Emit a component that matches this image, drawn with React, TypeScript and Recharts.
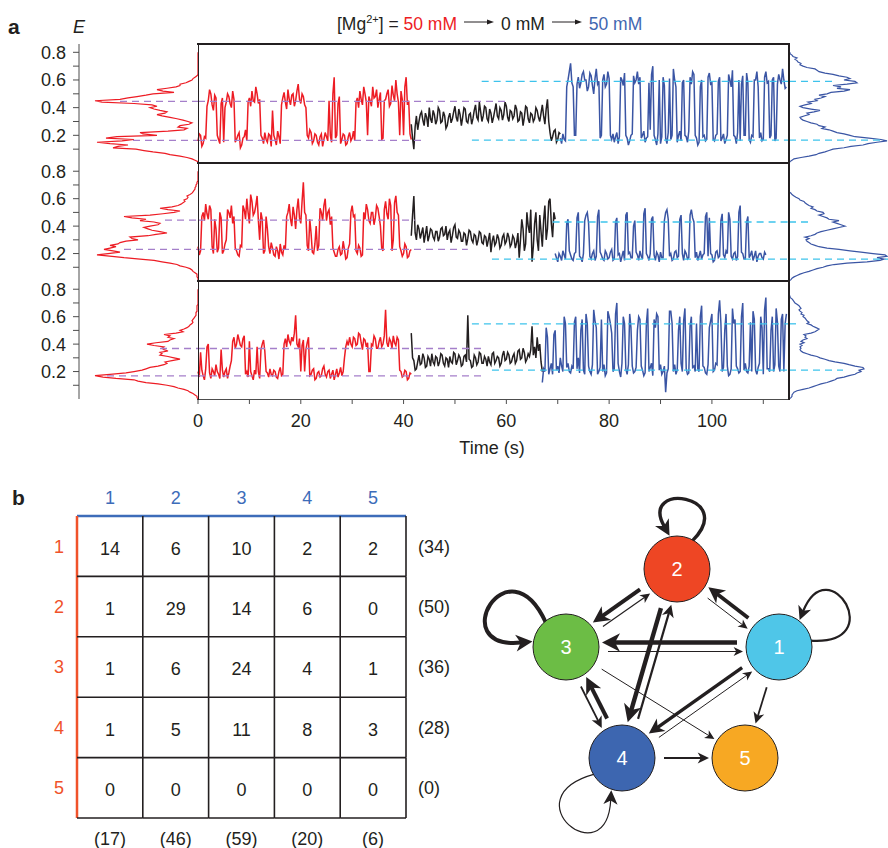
import React from "react";
import { Line, LineChart, ReferenceLine, Scatter, ScatterChart, XAxis, YAxis } from "recharts";

const FONT = '"Liberation Sans", Arial, Helvetica, sans-serif';
const INK = "#231f20";
const RED = "#ed1c24";
const BLUE = "#3a55a4";
const TITLE_BLUE = "#3f67b1";
const PURPLE = "#a57fca";
const CYAN = "#3ec3ec";
const TAB_BLUE = "#3d6cb9";
const TAB_RED = "#f0522a";

const DT = 0.25; // seconds between trace samples
const T_MAX = 115;
const E_MAX = 0.86;

// ---- trace 1 (E values) ----
const red1 = [
  .16,.21,.2,.12,.14,.19,.18,.41,.45,.53,.5,.42,.38,.49,.47,.2,.17,.14,.43,.47,
  .15,.4,.44,.5,.48,.43,.4,.52,.46,.15,.17,.2,.22,.11,.13,.18,.19,.24,.16,.44,
  .47,.41,.52,.45,.44,.55,.5,.43,.46,.2,.18,.14,.22,.17,.15,.21,.2,.12,.38,.2,
  .17,.13,.23,.19,.14,.42,.47,.51,.44,.39,.53,.46,.42,.49,.5,.41,.45,.52,.57,.46,
  .43,.5,.48,.42,.4,.2,.18,.24,.22,.14,.16,.21,.2,.15,.13,.19,.21,.12,.17,.22,
  .19,.16,.45,.2,.15,.5,.62,.18,.2,.43,.48,.14,.17,.21,.2,.13,.14,.19,.22,.16,
  .18,.23,.16,.44,.47,.4,.52,.46,.42,.55,.5,.44,.2,.48,.45,.41,.55,.47,.48,.53,
  .4,.46,.51,.17,.18,.45,.46,.5,.53,.41,.43,.56,.49,.45,.6,.5,.44,.2,.52,.46,
  .2,.55,.62,.42,.45,.21,.17,
];
const black1 = [
  .28,.18,.1,.26,.34,.24,.3,.35,.37,.31,.27,.36,.33,.26,.4,.32,.29,.38,.35,.28,
  .31,.4,.38,.29,.3,.37,.34,.25,.27,.33,.36,.29,.32,.37,.41,.33,.3,.39,.35,.27,
  .33,.4,.39,.3,.29,.35,.36,.28,.32,.38,.42,.33,.31,.44,.37,.3,.34,.41,.4,.32,
  .3,.39,.36,.29,.33,.38,.43,.34,.32,.4,.38,.31,.35,.44,.41,.33,.3,.38,.37,.32,
  .34,.42,.39,.3,.31,.37,.36,.27,.33,.41,.4,.32,.29,.36,.35,.3,.32,.4,.38,.33,
  .3,.36,.42,.34,.28,.39,.46,.3,.22,.16,.19,.23,.24,.15,.17,.22,.21,
];
const blue1 = [
  .18,.14,.21,.17,.16,.55,.6,.66,.72,.58,.55,.2,.2,.57,.62,.54,.58,.64,.66,.6,
  .6,.52,.55,.65,.63,.56,.5,.61,.68,.57,.59,.18,.2,.6,.64,.55,.57,.66,.61,.2,
  .17,.21,.15,.19,.22,.14,.19,.62,.6,.56,.65,.2,.18,.13,.16,.2,.21,.63,.58,.6,
  .66,.57,.62,.18,.2,.23,.15,.18,.19,.58,.24,.64,.7,.2,.17,.13,.21,.6,.14,.19,
  .62,.56,.18,.14,.22,.61,.17,.2,.68,.6,.55,.15,.2,.23,.16,.58,.6,.2,.19,.15,
  .23,.62,.57,.66,.64,.2,.18,.13,.15,.55,.6,.19,.2,.16,.17,.62,.65,.57,.58,.17,
  .16,.2,.21,.59,.62,.16,.18,.21,.14,.17,.2,.64,.6,.55,.67,.2,.19,.14,.22,.6,
  .16,.57,.63,.2,.2,.65,.58,.17,.15,.2,.19,.6,.6,.66,.55,.18,.22,.16,.17,.62,
  .66,.58,.59,.18,.2,.6,.62,.16,.18,.57,.64,.6,.57,.68,.6,.54,.55,
];
const starts1 = [0, 41.5, 70.5];

// ---- trace 2 ----
const red2 = [
  .25,.19,.22,.47,.5,.44,.56,.49,.45,.55,.52,.25,.2,.45,.38,.21,.24,.5,.46,.2,
  .22,.27,.3,.52,.5,.46,.55,.42,.47,.24,.22,.19,.18,.26,.25,.55,.52,.45,.6,.5,
  .42,.63,.58,.48,.5,.55,.62,.44,.3,.5,.45,.2,.22,.47,.38,.25,.2,.28,.24,.19,
  .18,.25,.22,.16,.27,.21,.19,.26,.23,.47,.5,.56,.45,.4,.54,.48,.38,.52,.6,.46,
  .42,.58,.72,.5,.48,.26,.22,.45,.35,.21,.2,.27,.4,.22,.26,.53,.5,.44,.55,.6,
  .44,.5,.52,.41,.47,.24,.21,.18,.18,.23,.25,.19,.2,.29,.23,.16,.17,.24,.27,.5,
  .55,.47,.48,.22,.2,.26,.24,.18,.19,.5,.45,.56,.52,.44,.42,.5,.5,.41,.46,.55,
  .53,.47,.4,.24,.22,.52,.58,.49,.45,.6,.55,.22,.3,.57,.62,.5,.48,.25,.22,.18,
  .2,.27,.25,.17,.18,.22,.23,
];
const black2 = [
  .33,.48,.62,.35,.3,.41,.38,.31,.35,.39,.28,.34,.4,.29,.33,.38,.37,.32,.3,.36,
  .36,.29,.32,.38,.39,.33,.34,.4,.3,.35,.37,.28,.33,.39,.41,.32,.31,.37,.35,.29,
  .29,.35,.34,.26,.31,.37,.36,.3,.28,.34,.33,.26,.3,.36,.35,.28,.27,.33,.32,.25,
  .3,.35,.21,.29,.33,.26,.28,.34,.31,.24,.26,.32,.34,.27,.29,.35,.32,.25,.27,.33,
  .31,.24,.28,.35,.17,.3,.45,.38,.22,.27,.5,.4,.35,.52,.14,.25,.42,.5,.3,.22,
  .48,.36,.25,.44,.55,.3,.38,.58,.6,.42,.32,.5,.45,
];
const blue2 = [
  .2,.17,.14,.2,.18,.15,.22,.19,.16,.42,.45,.22,.19,.16,.15,.2,.21,.46,.5,.18,
  .17,.14,.2,.44,.48,.5,.42,.18,.16,.2,.22,.15,.18,.47,.52,.21,.19,.16,.15,.22,
  .2,.16,.17,.21,.23,.15,.16,.43,.46,.19,.2,.14,.18,.22,.15,.48,.5,.2,.21,.17,
  .17,.4,.44,.21,.19,.15,.22,.18,.16,.49,.53,.2,.18,.15,.2,.45,.47,.19,.15,.21,
  .19,.14,.21,.17,.17,.44,.5,.52,.45,.18,.2,.15,.16,.21,.22,.17,.18,.45,.48,.2,
  .15,.22,.2,.16,.17,.48,.52,.46,.43,.17,.21,.15,.18,.22,.16,.19,.2,.47,.5,.18,
  .46,.2,.19,.14,.15,.21,.22,.17,.18,.44,.49,.19,.17,.22,.2,.5,.45,.18,.16,.2,
  .21,.15,.18,.5,.55,.21,.2,.16,.16,.43,.47,.17,.19,.22,.15,.18,.22,.14,.18,.2,
  .2,.17,.16,.21,.19,
];
const starts2 = [0, 41.5, 69.5];

// ---- trace 3 ----
const red3 = [
  .2,.16,.34,.21,.17,.14,.22,.38,.4,.19,.15,.22,.2,.17,.25,.2,.18,.15,.36,.21,
  .16,.2,.22,.15,.19,.24,.28,.42,.45,.37,.4,.47,.43,.39,.38,.44,.46,.18,.2,.16,
  .42,.2,.17,.14,.21,.18,.38,.2,.15,.36,.4,.43,.35,.2,.19,.16,.22,.18,.17,.21,
  .2,.16,.15,.2,.23,.17,.18,.4,.44,.38,.47,.42,.4,.45,.42,.48,.61,.4,.38,.44,
  .2,.39,.43,.2,.36,.41,.45,.17,.18,.21,.22,.14,.15,.19,.2,.16,.17,.22,.24,.18,
  .16,.2,.21,.15,.18,.21,.14,.18,.22,.16,.19,.23,.17,.2,.3,.38,.42,.39,.45,.4,
  .38,.45,.44,.39,.4,.48,.47,.41,.36,.44,.43,.38,.41,.2,.2,.4,.39,.46,.44,.37,
  .37,.42,.45,.38,.4,.46,.65,.41,.38,.44,.42,.37,.46,.41,.39,.45,.43,.21,.2,.16,
  .17,.21,.2,.14,.15,.19,.18,
];
const black3 = [
  .48,.3,.28,.21,.22,.27,.32,.25,.26,.33,.3,.23,.24,.31,.29,.24,.33,.27,.25,.31,
  .3,.24,.27,.33,.32,.26,.24,.3,.29,.23,.31,.27,.26,.34,.33,.25,.28,.32,.3,.24,
  .25,.31,.32,.27,.61,.29,.28,.23,.24,.32,.3,.25,.27,.34,.33,.26,.26,.31,.29,.24,
  .31,.27,.25,.33,.34,.26,.28,.31,.3,.24,.26,.32,.35,.28,.29,.34,.32,.26,.27,.31,
  .33,.26,.28,.35,.36,.29,.3,.37,.34,.27,.29,.33,.31,.36,.53,.32,.38,.3,.45,.35,
  .4,.27,.2,
];
const blue3 = [
  .12,.22,.2,.52,.45,.18,.22,.26,.18,.47,.5,.21,.24,.19,.3,.24,.2,.6,.55,.23,
  .26,.2,.19,.24,.22,.56,.6,.22,.3,.19,.5,.58,.21,.18,.62,.55,.24,.2,.18,.25,
  .65,.57,.52,.18,.2,.23,.58,.2,.25,.17,.19,.64,.6,.55,.48,.2,.22,.62,.7,.26,
  .2,.16,.26,.6,.55,.22,.18,.25,.62,.52,.24,.19,.2,.23,.5,.6,.58,.24,.21,.17,
  .19,.55,.66,.2,.23,.26,.17,.58,.52,.62,.6,.21,.25,.18,.2,.24,.05,.19,.22,.64,
  .64,.55,.2,.25,.18,.21,.5,.6,.26,.2,.57,.66,.22,.18,.19,.53,.6,.23,.24,.2,
  .55,.22,.2,.6,.68,.24,.23,.19,.18,.25,.52,.57,.62,.2,.21,.26,.25,.62,.72,.55,
  .2,.23,.5,.62,.24,.17,.18,.22,.66,.55,.58,.24,.22,.19,.2,.6,.7,.21,.26,.2,
  .19,.24,.56,.2,.64,.58,.21,.18,.23,.26,.6,.52,.18,.65,.74,.22,.22,.2,.5,.6,
  .2,.25,.66,.56,.24,.2,.58,.62,.2,.55,.62,
];
const starts3 = [0, 41.5, 67];

// ---- E histograms (counts per bin) ----
const eBins = [
  0,.01,.02,.03,.04,.05,.06,.07,.08,.09,
  .1,.11,.12,.13,.14,.15,.16,.17,.18,.19,
  .2,.21,.22,.23,.24,.25,.26,.27,.28,.29,
  .3,.31,.32,.33,.34,.35,.36,.37,.38,.39,
  .4,.41,.42,.43,.44,.45,.46,.47,.48,.49,
  .5,.51,.52,.53,.54,.55,.56,.57,.58,.59,
  .6,.61,.62,.63,.64,.65,.66,.67,.68,.69,
  .7,.71,.72,.73,.74,.75,.76,.77,.78,.79,
  .8,
];
const histL1 = [
  0,0,3,6,11,18,28,33,45,54,
  62,85,80,70,88,101,76,64,92,81,
  41,55,58,30,14,11,20,18,9,6,
  10,15,21,28,36,41,33,31,38,44,
  48,41,46,64,96,103,78,70,61,52,
  45,24,35,41,31,22,18,18,12,9,
  6,5,3,1,0,0,0,0,0,0,
  0,0,0,0,0,0,0,0,0,0,
  0,
];
const histR1 = [
  0,1,3,5,12,20,27,30,36,40,
  44,55,62,74,79,88,98,92,80,66,
  61,55,48,44,40,33,36,30,28,22,
  18,14,12,11,15,20,18,25,31,22,
  14,11,16,22,19,28,26,32,36,30,
  38,42,55,61,48,52,44,58,68,66,
  55,61,58,50,44,36,30,28,26,18,
  14,11,12,9,8,6,8,4,3,1,
  1,
];
const histL2 = [
  0,0,0,1,1,1,3,5,6,8,
  12,18,21,28,36,44,58,74,86,101,
  90,78,85,94,88,82,88,80,78,72,
  60,66,68,50,42,31,38,46,50,54,
  48,40,38,44,58,52,66,74,48,35,
  24,18,30,38,26,20,17,15,13,14,
  11,10,11,8,6,5,4,3,3,2,
  2,1,1,0,0,0,0,0,0,0,
  0,
];
const histR2 = [
  0,2,3,5,8,11,15,20,24,28,
  34,38,45,58,78,91,95,88,98,96,
  84,72,61,50,38,30,26,22,20,18,
  17,20,16,22,26,28,32,38,44,50,
  56,52,48,44,50,40,38,34,30,35,
  34,28,26,22,24,20,18,16,15,11,
  10,7,5,3,2,0,0,0,0,0,
  0,0,0,0,0,0,0,0,0,0,
  0,
];
const histL3 = [
  0,1,1,3,5,8,10,14,20,24,
  31,40,52,60,64,82,95,103,88,72,
  64,56,52,48,40,34,31,33,26,18,
  24,30,38,36,38,30,34,36,34,44,
  51,42,30,28,24,30,28,34,22,15,
  18,14,11,9,8,6,5,6,5,4,
  3,2,2,2,1,1,1,1,1,0,
  0,0,0,0,0,0,0,0,0,0,
  0,
];
const histR3 = [
  0,2,3,3,4,5,8,14,20,24,
  28,32,38,42,46,48,55,60,66,68,
  72,70,75,74,66,60,55,46,40,36,
  31,28,22,18,14,12,11,12,11,13,
  11,15,12,14,18,16,17,15,22,26,
  28,30,27,24,22,18,20,18,17,16,
  14,15,12,13,11,10,12,11,10,8,
  6,5,4,3,1,1,0,0,0,0,
  0,
];

// ---- state levels: [E, reach into histogram, t from, t to] ----
const before1 = [[0.445, 78, 0, 60.7], [0.163, 65, 0, 43.8]];
const after1 = [[0.59, 44, 55.2, 115], [0.165, 91, 53.3, 115]];
const before2 = [[0.443, 33, 0, 42.2], [0.23, 74, 0, 52.5]];
const after2 = [[0.43, 24, 69, 115], [0.16, 99, 57.2, 115]];
const before3 = [[0.368, 38, 0, 55.9], [0.168, 91, 0, 56]];
const after3 = [[0.548, 11, 53.3, 115], [0.21, 54, 57.2, 115]];

// ---- panel b: transition counts (row = from, column = to) ----
const stateIds = [1, 2, 3, 4, 5];
const transitions = [
  [14, 6, 10, 2, 2],
  [1, 29, 14, 6, 0],
  [1, 6, 24, 4, 1],
  [1, 5, 11, 8, 3],
  [0, 0, 0, 0, 0],
];
const nodeX = [309, 207, 96, 152, 275];
const nodeY = [157, 79, 157, 268, 268];
const nodeColors = ["#4fc6e8", "#ee4624", "#6cbd45", "#3d66b0", "#f7a823"];

const rowSums = transitions.map((r) => r.reduce((a, b) => a + b, 0));
const colSums = stateIds.map((_, j) => transitions.reduce((a, r) => a + r[j], 0));

const arrowWidth: Record<string, number> = {
  "1-3": 4.6, "3-1": 1, "2-3": 4, "3-2": 1.2, "1-2": 3.8, "2-1": 1,
  "2-4": 4.4, "4-2": 2.2, "1-4": 3.4, "4-1": 1, "3-4": 1.8, "4-3": 4,
  "3-5": 1, "4-5": 1.8, "1-5": 1.8,
};
const loopStyle: Record<number, { angle: number; dist: number; width: number; head: number }> = {
  1: { angle: -32, dist: 111, width: 2.2, head: 2.8 },
  2: { angle: -82, dist: 96, width: 3.4, head: 3.6 },
  3: { angle: -150, dist: 122, width: 4, head: 4 },
  4: { angle: 129, dist: 120, width: 1.2, head: 3 },
};

type Level = number[];
interface PanelDef {
  top: number; h: number;
  red: number[]; black: number[]; blue: number[]; starts: number[];
  histL: number[]; histR: number[]; before: Level[]; after: Level[];
}

const panels: PanelDef[] = [
  { top: 44, h: 119, red: red1, black: black1, blue: blue1, starts: starts1, histL: histL1, histR: histR1, before: before1, after: after1 },
  { top: 163, h: 118, red: red2, black: black2, blue: blue2, starts: starts2, histL: histL2, histR: histR2, before: before2, after: after2 },
  { top: 281, h: 118, red: red3, black: black3, blue: blue3, starts: starts3, histL: histL3, histR: histR3, before: before3, after: after3 },
];

const NO_MARGIN = { top: 0, right: 0, bottom: 0, left: 0 };
const toSeries = (vals: number[], t0: number) => vals.map((e, i) => ({ t: t0 + i * DT, e }));
const toHist = (counts: number[]) => counts.map((c, i) => ({ e: eBins[i], c }));
const dash = { strokeDasharray: "7 5", strokeWidth: 1.3 };
const eTicks = [0.1, 0.2, 0.3, 0.4, 0.5, 0.6, 0.7, 0.8];
const tTicks = [0, 10, 20, 30, 40, 50, 60, 70, 80, 90, 100, 110];
const fmtE = (v: number) => (Math.round(v * 10) % 2 === 0 ? v.toFixed(1) : "");
const tickFont = { fontSize: 18, fill: INK, fontFamily: FONT };

function TracePanel({ p, last }: { p: PanelDef; last: boolean }) {
  const lines: [number[], number, string][] = [
    [p.red, p.starts[0], RED],
    [p.black, p.starts[1], INK],
    [p.blue, p.starts[2], BLUE],
  ];
  return (
    <LineChart width={591} height={p.h + (last ? 50 : 0)} margin={NO_MARGIN}>
      <XAxis
        type="number" dataKey="t" domain={[0, T_MAX]} hide={!last} ticks={tTicks} interval={0}
        tickFormatter={(v: number) => (v % 20 === 0 ? String(v) : "")}
        height={50} tickSize={5} tickMargin={10} axisLine={false} stroke="#4d4d4d" tick={tickFont}
      />
      <YAxis yAxisId="e" type="number" domain={[0, E_MAX]} hide />
      <YAxis yAxisId="major" type="number" domain={[0, E_MAX]} ticks={[0.2, 0.4, 0.6, 0.8]} interval={0}
        mirror width={0} axisLine={false} tick={false} tickSize={10} stroke={INK} />
      <YAxis yAxisId="minor" type="number" domain={[0, E_MAX]} ticks={[0.1, 0.3, 0.5, 0.7]} interval={0}
        mirror width={0} axisLine={false} tick={false} tickSize={6} stroke={INK} />
      {lines.map(([vals, t0, color], i) => (
        <Line key={i} yAxisId="e" type="linear" data={toSeries(vals, t0)} dataKey="e" stroke={color}
          strokeWidth={1.5} dot={false} activeDot={false} isAnimationActive={false} />
      ))}
      {p.before.map(([e, , t0, t1], i) => (
        <ReferenceLine key={"b" + i} yAxisId="e" segment={[{ x: t0, y: e }, { x: t1, y: e }]} stroke={PURPLE} {...dash} />
      ))}
      {p.after.map(([e, , t0, t1], i) => (
        <ReferenceLine key={"a" + i} yAxisId="e" segment={[{ x: t0, y: e }, { x: t1, y: e }]} stroke={CYAN} {...dash} />
      ))}
    </LineChart>
  );
}

function LeftHist({ p }: { p: PanelDef }) {
  return (
    <LineChart layout="vertical" width={168} height={p.h} margin={NO_MARGIN}>
      <XAxis type="number" dataKey="c" domain={[0, 119]} reversed hide />
      <YAxis type="number" dataKey="e" domain={[0, E_MAX]} reversed ticks={eTicks} interval={0} tickFormatter={fmtE}
        width={49} tickSize={6} tickMargin={7} stroke="#4d4d4d" tick={tickFont} />
      <Line data={toHist(p.histL)} dataKey="c" stroke={RED} strokeWidth={1.2} dot={false} activeDot={false} isAnimationActive={false} />
      {p.before.map(([e, reach], i) => (
        <ReferenceLine key={i} segment={[{ x: reach, y: e }, { x: 0, y: e }]} stroke={PURPLE} {...dash} />
      ))}
    </LineChart>
  );
}

function RightHist({ p }: { p: PanelDef }) {
  return (
    <LineChart layout="vertical" width={99} height={p.h} margin={NO_MARGIN}>
      <XAxis type="number" dataKey="c" domain={[0, 99]} hide />
      <YAxis type="number" dataKey="e" domain={[0, E_MAX]} reversed hide />
      <Line data={toHist(p.histR)} dataKey="c" stroke={BLUE} strokeWidth={1.2} dot={false} activeDot={false} isAnimationActive={false} />
      {p.after.map(([e, reach], i) => (
        <ReferenceLine key={i} segment={[{ x: 0, y: e }, { x: reach, y: e }]} stroke={CYAN} {...dash} />
      ))}
    </LineChart>
  );
}

// ---- panel b, table ----
const TAB_W = 470, TAB_H = 378;
const CELL_W = (TAB_W - 77 - 64) / 5;
const CELL_H = (TAB_H - 46 - 30) / 5;
const cellData = transitions.flatMap((row, r) => row.map((n, c) => ({ col: c + 1, row: r + 1, n })));

function CellShape(props: any) {
  const { cx, cy, payload } = props;
  const x0 = cx - CELL_W / 2, x1 = cx + CELL_W / 2, y1 = cy + CELL_H / 2, y0 = cy - CELL_H / 2;
  return (
    <g>
      <line x1={x1} y1={y0} x2={x1} y2={y1} stroke={INK} strokeWidth={1.6} />
      <line x1={x0} y1={y1} x2={x1} y2={y1} stroke={INK} strokeWidth={1.6} />
      <text x={cx} y={cy + 2} dy="0.36em" textAnchor="middle" fontSize={18} fill={INK} fontFamily={FONT}>
        {payload.n}
      </text>
    </g>
  );
}

function TransitionTable() {
  const tab = { fontSize: 18, fontFamily: FONT };
  return (
    <ScatterChart width={TAB_W} height={TAB_H} margin={NO_MARGIN}>
      <XAxis xAxisId="top" orientation="top" type="number" dataKey="col" domain={[0.5, 5.5]} ticks={stateIds} interval={0}
        height={46} tickSize={0} tickMargin={12} tickLine={false} axisLine={{ stroke: TAB_BLUE, strokeWidth: 2.5 }}
        tick={{ ...tab, fill: TAB_BLUE }} />
      <XAxis xAxisId="sum" orientation="bottom" type="number" dataKey="col" domain={[0.5, 5.5]} ticks={stateIds} interval={0}
        height={30} tickSize={0} tickMargin={14} tickLine={false} axisLine={false}
        tickFormatter={(v: number) => `(${colSums[v - 1]})`} tick={{ ...tab, fill: INK }} />
      <YAxis yAxisId="left" type="number" dataKey="row" domain={[0.5, 5.5]} reversed ticks={stateIds} interval={0}
        width={77} tickSize={0} tickMargin={13} tickLine={false} axisLine={{ stroke: TAB_RED, strokeWidth: 2.5 }}
        tick={{ ...tab, fill: TAB_RED }} />
      <YAxis yAxisId="sum" orientation="right" type="number" dataKey="row" domain={[0.5, 5.5]} reversed ticks={stateIds} interval={0}
        width={64} tickSize={0} tickMargin={12} tickLine={false} axisLine={false}
        tickFormatter={(v: number) => `(${rowSums[v - 1]})`} tick={{ ...tab, fill: INK }} />
      <Scatter xAxisId="sum" yAxisId="sum" data={cellData} shape={() => <g />} isAnimationActive={false} />
      <Scatter xAxisId="top" yAxisId="left" data={cellData} shape={CellShape} isAnimationActive={false} />
    </ScatterChart>
  );
}

// ---- panel b, state network ----
const NODE_R = 33;
const nodeData = stateIds.map((id, i) => ({ id, x: nodeX[i], y: nodeY[i] }));
const loopData = nodeData.filter((n) => transitions[n.id - 1][n.id - 1] > 0);
const edgeList = transitions
  .flatMap((row, i) => row.map((n, j) => ({ from: i + 1, to: j + 1, n })))
  .filter((e) => e.n > 0 && e.from !== e.to);

function edgeSegment(a: number, b: number) {
  const x1 = nodeX[a - 1], y1 = nodeY[a - 1], x2 = nodeX[b - 1], y2 = nodeY[b - 1];
  const len = Math.hypot(x2 - x1, y2 - y1);
  const ux = (x2 - x1) / len, uy = (y2 - y1) / len;
  const off = transitions[b - 1][a - 1] > 0 ? 4.5 : 0;
  const px = -uy * off, py = ux * off;
  const s = NODE_R + 9, e = NODE_R + 3;
  return [
    { x: x1 + ux * s + px, y: y1 + uy * s + py },
    { x: x2 - ux * e + px, y: y2 - uy * e + py },
  ];
}

function headPoints(tx: number, ty: number, ux: number, uy: number, w: number) {
  const L = 7 + 2.4 * w, hw = 3.2 + 1.3 * w;
  const bx = tx - ux * L, by = ty - uy * L;
  const nx = tx - ux * L * 0.72, ny = ty - uy * L * 0.72;
  return {
    pts: `${tx},${ty} ${bx - uy * hw},${by + ux * hw} ${nx},${ny} ${bx + uy * hw},${by - ux * hw}`,
    nx: nx + ux * 0.5, ny: ny + uy * 0.5,
  };
}

function arrowShape(w: number) {
  return (props: any) => {
    const { x1, y1, x2, y2 } = props;
    const len = Math.hypot(x2 - x1, y2 - y1) || 1;
    const ux = (x2 - x1) / len, uy = (y2 - y1) / len;
    const h = headPoints(x2, y2, ux, uy, w);
    return (
      <g>
        <line x1={x1} y1={y1} x2={h.nx} y2={h.ny} stroke={INK} strokeWidth={w} />
        <polygon points={h.pts} fill={INK} />
      </g>
    );
  };
}

function LoopShape(props: any) {
  const { cx, cy, payload } = props;
  const st = loopStyle[payload.id];
  const a = (st.angle * Math.PI) / 180;
  const at = (ang: number, d: number) => [cx + Math.cos(ang) * d, cy + Math.sin(ang) * d];
  const [sx, sy] = at(a + 0.36, NODE_R - 1);
  const [c1x, c1y] = at(a + 0.55, st.dist);
  const [c2x, c2y] = at(a - 0.55, st.dist);
  const [tx, ty] = at(a - 0.36, NODE_R + 1);
  const len = Math.hypot(tx - c2x, ty - c2y);
  const ux = (tx - c2x) / len, uy = (ty - c2y) / len;
  const h = headPoints(tx, ty, ux, uy, st.head);
  return (
    <g>
      <path d={`M${sx},${sy} C${c1x},${c1y} ${c2x},${c2y} ${h.nx},${h.ny}`} fill="none" stroke={INK} strokeWidth={st.width} />
      <polygon points={h.pts} fill={INK} />
    </g>
  );
}

function NodeShape(props: any) {
  const { cx, cy, payload } = props;
  return (
    <g>
      <circle cx={cx} cy={cy} r={NODE_R} fill={nodeColors[payload.id - 1]} stroke={INK} strokeWidth={1} />
      <text x={cx} y={cy} dy="0.36em" textAnchor="middle" fontSize={20} fill="#fff" fontFamily={FONT}>
        {payload.id}
      </text>
    </g>
  );
}

function StateNetwork() {
  return (
    <ScatterChart width={418} height={358} margin={NO_MARGIN}>
      <XAxis type="number" dataKey="x" domain={[0, 418]} hide />
      <YAxis type="number" dataKey="y" domain={[0, 358]} reversed hide />
      <Scatter data={loopData} shape={LoopShape} isAnimationActive={false} />
      {edgeList.map((e) => (
        <ReferenceLine key={`${e.from}-${e.to}`} segment={edgeSegment(e.from, e.to)} ifOverflow="visible"
          shape={arrowShape(arrowWidth[`${e.from}-${e.to}`] ?? 1)} />
      ))}
      <Scatter data={nodeData} shape={NodeShape} isAnimationActive={false} />
    </ScatterChart>
  );
}

function TitleArrow() {
  return (
    <svg width={30} height={8} style={{ margin: "0 7px", position: "relative", top: -4 }}>
      <line x1={0} y1={4} x2={25} y2={4} stroke={INK} strokeWidth={1} />
      <polygon points="30,4 23,1.5 23,6.5" fill={INK} />
    </svg>
  );
}

function Rule({ l, t, w, h, c = INK }: { l: number; t: number; w: number; h: number; c?: string }) {
  return <div style={{ position: "absolute", left: l, top: t, width: w, height: h, background: c }} />;
}

export default function App() {
  const abs = (l: number, t: number): React.CSSProperties => ({ position: "absolute", left: l, top: t });
  return (
    <div style={{ position: "absolute", left: 0, top: 0, width: 888, height: 848, background: "#fff", fontFamily: FONT, color: INK, overflow: "hidden" }}>
      <style>{`.recharts-surface{overflow:visible}`}</style>

      <div style={{ ...abs(8, 16), fontSize: 21, fontWeight: "bold", lineHeight: "21px" }}>a</div>
      <div style={{ ...abs(73, 18), fontSize: 18, fontStyle: "italic", lineHeight: "18px" }}>E</div>
      <div style={{ ...abs(337, 16), fontSize: 17.5, lineHeight: "17px", whiteSpace: "nowrap" }}>
        [Mg<span style={{ fontSize: 11, position: "relative", top: -7 }}>2+</span>] = <span style={{ color: RED }}>50 mM</span>
        <TitleArrow />0 mM<TitleArrow />
        <span style={{ color: TITLE_BLUE }}>50 mM</span>
      </div>

      {panels.map((p, i) => (
        <React.Fragment key={i}>
          <div style={abs(30, p.top)}><LeftHist p={p} /></div>
          <div style={abs(198, p.top)}><TracePanel p={p} last={i === 2} /></div>
          <div style={abs(789, p.top)}><RightHist p={p} /></div>
        </React.Fragment>
      ))}

      <Rule l={197} t={43} w={593} h={2} />
      <Rule l={197} t={162} w={593} h={2} />
      <Rule l={197} t={280} w={593} h={2} />
      <Rule l={197} t={398.5} w={593} h={1.5} c="#4d4d4d" />
      <Rule l={197.5} t={43} w={1} h={357} />
      <Rule l={788} t={43} w={2} h={357} />

      <div style={{ ...abs(492, 439), transform: "translateX(-50%)", fontSize: 18, lineHeight: "18px", whiteSpace: "nowrap" }}>Time (s)</div>

      <div style={{ ...abs(12, 487), fontSize: 21, fontWeight: "bold", lineHeight: "21px" }}>b</div>
      <div style={abs(0, 470)}><TransitionTable /></div>
      <div style={abs(470, 490)}><StateNetwork /></div>
    </div>
  );
}
